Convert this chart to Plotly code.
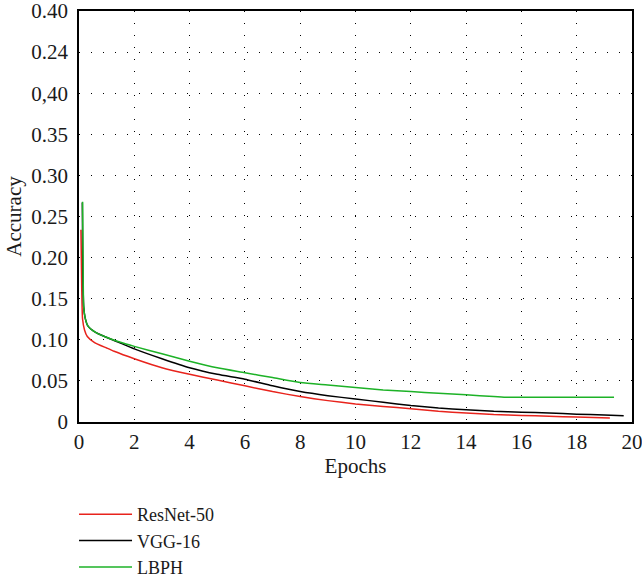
import plotly.graph_objects as go

# ResNet-50
resnet_epochs = [0.07, 0.1, 0.13, 0.2, 0.3, 0.55, 1.0, 1.27, 2, 3, 4, 5, 6, 7, 8, 9, 10, 11, 12, 13, 14, 15, 16, 17, 18, 19.2]
resnet_acc = [0.234, 0.16, 0.125, 0.112, 0.104, 0.097, 0.090, 0.086, 0.077, 0.066, 0.058, 0.051, 0.044, 0.037, 0.031, 0.026, 0.022, 0.019, 0.016, 0.013, 0.011, 0.009, 0.008, 0.007, 0.006, 0.005]

# VGG-16
vgg_epochs = [0.12, 0.14, 0.17, 0.22, 0.32, 0.6, 0.92, 1.5, 2, 3, 4, 5, 6, 7, 8, 9, 10, 11, 12, 13, 14, 15, 16, 17, 18, 19, 19.7]
vgg_acc = [0.267, 0.18, 0.14, 0.127, 0.117, 0.109, 0.104, 0.096, 0.089, 0.077, 0.066, 0.058, 0.052, 0.044, 0.037, 0.032, 0.028, 0.024, 0.020, 0.017, 0.015, 0.013, 0.012, 0.011, 0.0095, 0.0085, 0.0075]

# LBPH
lbph_epochs = [0.13, 0.15, 0.17, 0.22, 0.32, 0.6, 0.92, 1.5, 2, 3, 4, 5, 6, 7, 8, 9, 10, 11, 12, 13, 14, 15, 15.5, 16, 18, 19.35]
lbph_acc = [0.268, 0.18, 0.14, 0.127, 0.117, 0.109, 0.104, 0.097, 0.092, 0.083, 0.074, 0.066, 0.060, 0.054, 0.048, 0.045, 0.042, 0.039, 0.037, 0.035, 0.033, 0.031, 0.030, 0.030, 0.030, 0.030]

x_ticks = [0, 2, 4, 6, 8, 10, 12, 14, 16, 18, 20]
y_tickvals = [0, 0.05, 0.10, 0.15, 0.20, 0.25, 0.30, 0.35, 0.40, 0.45, 0.50]
y_ticktext = ["0", "0.05", "0.10", "0.15", "0.20", "0.25", "0.30", "0.35", "0,40", "0.24", "0.40"]

FONT = "'Liberation Serif', 'DejaVu Serif', serif"
TXT = "#1a1a1a"
FS = 21
LEG_FS = 18

fig = go.Figure()
fig.add_trace(go.Scatter(x=resnet_epochs, y=resnet_acc, mode="lines", name="ResNet-50",
                         line=dict(color="#e8231c", width=1.5, shape="spline", smoothing=0.6)))
fig.add_trace(go.Scatter(x=vgg_epochs, y=vgg_acc, mode="lines", name="VGG-16",
                         line=dict(color="#000000", width=1.5, shape="spline", smoothing=0.6)))
fig.add_trace(go.Scatter(x=lbph_epochs, y=lbph_acc, mode="lines", name="LBPH",
                         line=dict(color="#1db227", width=1.5, shape="spline", smoothing=0.6)))

fig.update_layout(
    width=642, height=585,
    margin=dict(l=79, r=10, t=11, b=163, autoexpand=False),
    paper_bgcolor="white", plot_bgcolor="white",
    font=dict(family=FONT, size=FS, color=TXT),
    showlegend=True,
    legend=dict(x=-0.009, y=-0.18, xanchor="left", yanchor="top",
                font=dict(family=FONT, size=LEG_FS, color=TXT),
                tracegroupgap=0, itemwidth=53, bgcolor="rgba(0,0,0,0)"),
)
fig.update_xaxes(
    range=[0, 20], tickvals=x_ticks, ticktext=[str(v) for v in x_ticks],
    showline=True, linecolor="black", linewidth=1.5, mirror=True,
    showgrid=True, gridcolor="black", gridwidth=1, griddash="1px,11px",
    zeroline=False, ticks="", ticklen=0, automargin=False, ticklabeloverflow="allow",
    title=dict(text="Epochs", font=dict(family=FONT, size=FS, color=TXT), standoff=4),
    tickfont=dict(family=FONT, size=FS, color=TXT),
)
fig.update_yaxes(
    range=[0, 0.5], tickvals=y_tickvals, ticktext=y_ticktext,
    showline=True, linecolor="black", linewidth=1.5, mirror=True,
    showgrid=True, gridcolor="black", gridwidth=1, griddash="1px,11px",
    zeroline=False, ticks="", ticklen=0, automargin=False, ticklabelstandoff=5,
    ticklabeloverflow="allow",
    title=dict(text="Accuracy", font=dict(family=FONT, size=FS, color=TXT), standoff=4),
    tickfont=dict(family=FONT, size=FS, color=TXT),
)

fig.write_html("out.html", config={"displayModeBar": False},
               post_script="document.body.style.margin='0';")
